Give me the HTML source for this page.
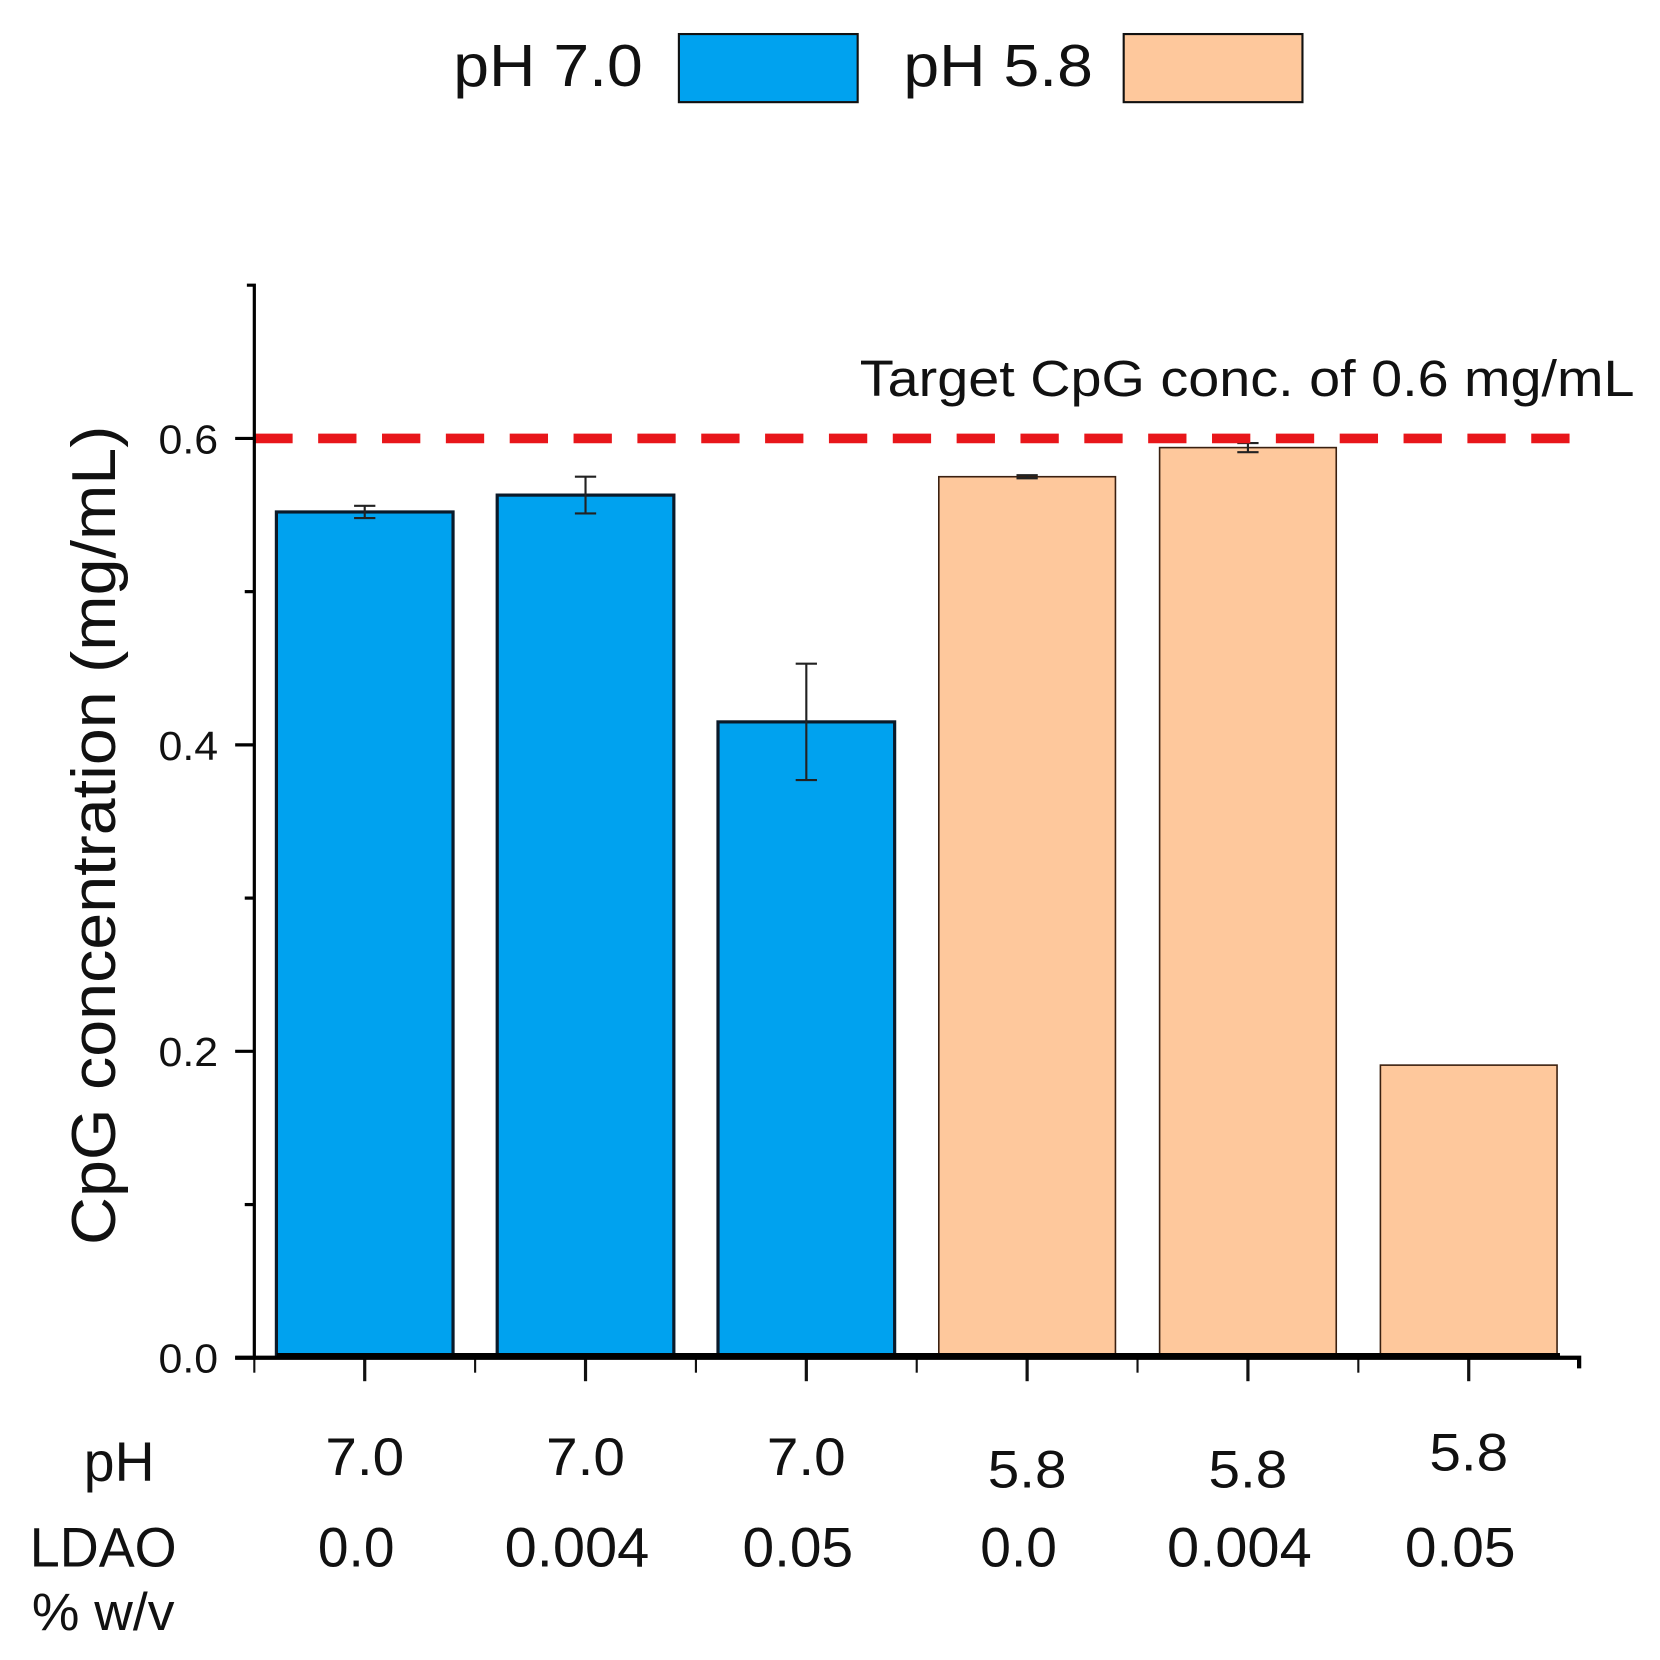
<!DOCTYPE html>
<html><head><meta charset="utf-8"><style>html,body{margin:0;padding:0;background:#fff}svg{display:block}text{font-family:"Liberation Sans",Arial,sans-serif;fill:#111}</style></head>
<body>
<svg id="chart" width="1660" height="1660" viewBox="0 0 1560 1560" xmlns="http://www.w3.org/2000/svg">
<g>
<text x="426" y="81" font-size="56" textLength="178" lengthAdjust="spacingAndGlyphs">pH 7.0</text>
<rect x="638" y="32" width="168" height="64" fill="#00a2ef" stroke="#111" stroke-width="2"/>
<text x="849" y="81" font-size="56" textLength="178" lengthAdjust="spacingAndGlyphs">pH 5.8</text>
<rect x="1056" y="32" width="168" height="64" fill="#fec89c" stroke="#111" stroke-width="2"/>
</g>
<text transform="translate(108,785) rotate(-90)" text-anchor="middle" font-size="58" textLength="770" lengthAdjust="spacingAndGlyphs">CpG concentration (mg/mL)</text>
<text x="808" y="372" font-size="48" textLength="728" lengthAdjust="spacingAndGlyphs">Target CpG conc. of 0.6 mg/mL</text>
<g id="plot"></g>
<text x="112" y="1392" text-anchor="middle" font-size="52">pH</text>
<text x="97" y="1472" text-anchor="middle" font-size="52" textLength="138" lengthAdjust="spacingAndGlyphs">LDAO</text>
<text x="97" y="1532" text-anchor="middle" font-size="50" textLength="134" lengthAdjust="spacingAndGlyphs">% w/v</text>
</svg>
<script>
const categories = ["7.0|0.0","7.0|0.004","7.0|0.05","5.8|0.0","5.8|0.004","5.8|0.05"];
const phLabels = ["7.0","7.0","7.0","5.8","5.8","5.8"];
const ldaoLabels = ["0.0","0.004","0.05","0.0","0.004","0.05"];
const values = [0.552,0.563,0.415,0.575,0.594,0.191];
const errors = [0.004,0.012,0.038,0.001,0.003,0];
const groups = [0,0,0,1,1,1];
const yTicks = ["0.0","0.2","0.4","0.6"];
const yTickValues = [0,0.2,0.4,0.6];
const yMinorValues = [0.1,0.3,0.5];
const targetValue = 0.6;

const NS="http://www.w3.org/2000/svg";
const X0=239,X1=1484,Y0=1276,YMAX=0.7,YTOP=268;
const band=(X1-X0)/categories.length;
function x(i){return X0+band*(i+0.5);}
function y(v){return YTOP+(Y0-YTOP)*(1-v/YMAX);}
const g=document.getElementById('plot');
function mk(tag,attrs){const e=document.createElementNS(NS,tag);for(const k in attrs)e.setAttribute(k,attrs[k]);g.appendChild(e);return e;}
const fills=["#00a2ef","#fec89c"],edges=["#0a1a2a","#3a2010"];
const labelDy=[0,0,0,12,12,-4];
const ldaoW=[72,136,104,72,136,104];
categories.forEach((c,i)=>{
  const bw=166;
  const r=mk('rect',{x:x(i)-bw/2,y:y(values[i]),width:bw,height:Y0-y(values[i]),fill:fills[groups[i]],stroke:edges[groups[i]],'stroke-width':groups[i]?1.5:3});
  
  
  if(errors[i]>0){
    const e=mk('path',{d:`M${x(i)} ${y(values[i]+errors[i])}V${y(values[i]-errors[i])}M${x(i)-10} ${y(values[i]+errors[i])}h20M${x(i)-10} ${y(values[i]-errors[i])}h20`,stroke:'#222','stroke-width':2,fill:'none'});
    
    
  }
  const t=mk('path',{d:`M${x(i)} ${Y0}v22`,stroke:'#111','stroke-width':3});
  
  
  const m=mk('path',{d:`M${X0+band*i} ${Y0}v14`,stroke:'#111','stroke-width':2});
  
  
  const p=mk('text',{x:x(i),y:1386+labelDy[i],'text-anchor':'middle','font-size':50,textLength:74,lengthAdjust:'spacingAndGlyphs'});
  p.textContent=phLabels[i];
  
  
  const l=mk('text',{x:x(i)-8,y:1472,'text-anchor':'middle','font-size':52,textLength:ldaoW[i],lengthAdjust:'spacingAndGlyphs'});
  l.textContent=ldaoLabels[i];
  
  
});
const base=mk('path',{d:`M260 ${Y0-2}H1466`,stroke:'#000','stroke-width':5});


const tl=mk('path',{d:`M${X0} ${y(targetValue)}H${X1+5}`,stroke:'#e8161a','stroke-width':9,'stroke-dasharray':'36 24'});


const ya=mk('path',{d:`M232 ${YTOP}H${X0}V${Y0}`,stroke:'#000','stroke-width':3,fill:'none'});


const xa=mk('path',{d:`M221 ${Y0}H${X1}v10`,stroke:'#000','stroke-width':4,fill:'none'});


yTickValues.forEach((v,i)=>{
  const t=mk('path',{d:`M221 ${y(v)}H${X0}`,stroke:'#000','stroke-width':3});
  
  
  const tx=mk('text',{x:205,y:y(v)+14,'text-anchor':'end','font-size':38,textLength:56,lengthAdjust:'spacingAndGlyphs'});
  tx.textContent=yTicks[i];
  
  
});
yMinorValues.forEach(v=>{
  const t=mk('path',{d:`M230 ${y(v)}H${X0}`,stroke:'#000','stroke-width':3});
  
  
});
</script>
</body></html>
